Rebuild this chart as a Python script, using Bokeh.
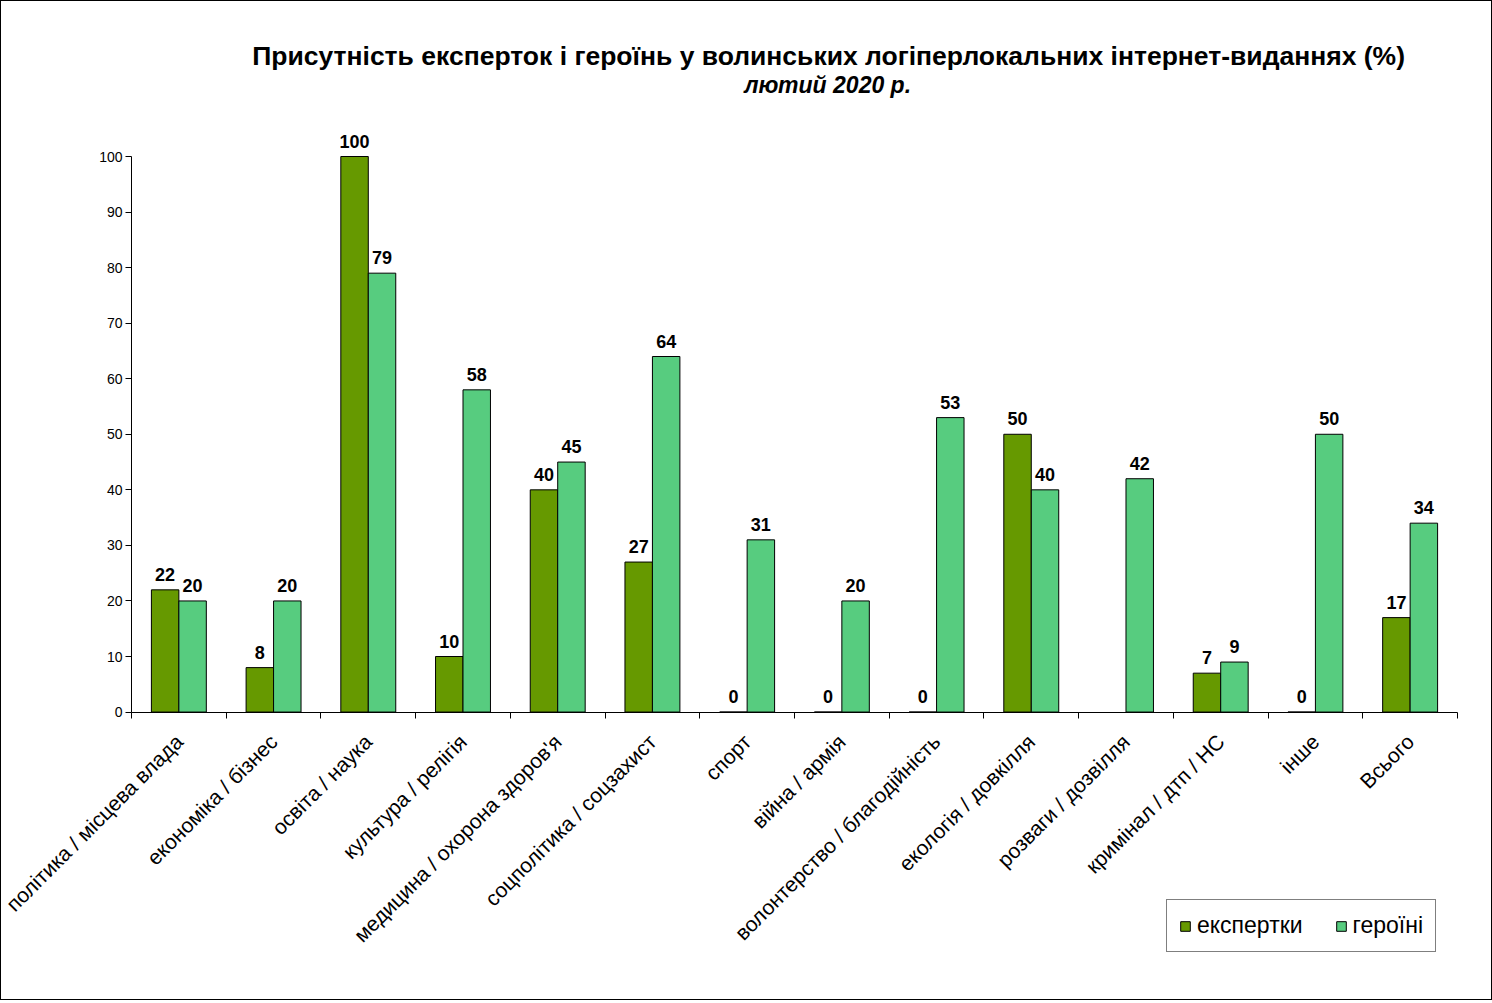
from math import pi, nan
from bokeh.plotting import figure
from bokeh.models import (ColumnDataSource, Range1d, FixedTicker, LabelSet, Label,
                          Legend, LegendItem)
from bokeh.core.properties import value
from bokeh.embed import file_html
from bokeh.resources import INLINE

categories = ["політика / місцева влада", "економіка / бізнес", "освіта / наука",
              "культура / релігія", "медицина / охорона здоров'я", "соцполітика / соцзахист",
              "спорт", "війна / армія", "волонтерство / благодійність", "екологія / довкілля",
              "розваги / дозвілля", "кримінал / дтп / НС", "інше", "Всього"]
experts = [22, 8, 100, 10, 40, 27, 0, 0, 0, 50, None, 7, 0, 17]
heroines = [20, 20, 79, 58, 45, 64, 31, 20, 53, 40, 42, 9, 50, 34]
y_ticks = list(range(0, 101, 10))

title_text = "Присутність експерток і героїнь у волинських логіперлокальних інтернет-виданнях (%)"
subtitle_text = "лютий 2020 р."

FONT = "Liberation Sans"
DARK = "#669900"
LIGHT = "#57CC7F"

n = len(categories)
centers = [i + 0.5 for i in range(n)]
off = 0.145
bw = 0.29

src_e = ColumnDataSource(dict(
    x=[c - off for c in centers],
    top=[nan if v is None else v for v in experts],
    label=["" if v is None else str(v) for v in experts],
    ly=[0 if v is None else v for v in experts],
))
src_h = ColumnDataSource(dict(
    x=[c + off for c in centers],
    top=heroines,
    label=[str(v) for v in heroines],
    ly=heroines,
))

p = figure(frame_width=1486, frame_height=940, output_backend="svg", toolbar_location=None,
           x_range=Range1d(-1.3515, 14.338), y_range=Range1d(-44.9, 124.3),
           min_border_left=2, min_border_right=2, min_border_top=20, min_border_bottom=38,
           styles={"border": "1px solid black"})
p.outline_line_color = None
p.xgrid.visible = False
p.ygrid.visible = False
p.background_fill_color = "white"
p.border_fill_color = "white"

r_e = p.vbar(x="x", top="top", width=bw, bottom=0, source=src_e,
             fill_color=DARK, line_color="black", line_width=1)
r_h = p.vbar(x="x", top="top", width=bw, bottom=0, source=src_h,
             fill_color=LIGHT, line_color="black", line_width=1)

for s in (src_e, src_h):
    p.add_layout(LabelSet(x="x", y="ly", text="label", source=s, y_offset=9,
                          text_align="center", text_baseline="bottom",
                          text_font=value(FONT), text_font_size=value("18px"),
                          text_font_style=value("bold"), text_color=value("black")))

# axes
xa = p.xaxis[0]
xa.fixed_location = 0
xa.bounds = (0, n)
xa.ticker = FixedTicker(ticks=centers, minor_ticks=list(range(n + 1)))
xa.major_label_overrides = {c: lab for c, lab in zip(centers, categories)}
xa.major_tick_line_color = None
xa.minor_tick_line_color = "black"
xa.minor_tick_out = 6
xa.minor_tick_in = 0
xa.major_label_orientation = pi / 4
xa.major_label_standoff = 20
xa.major_label_text_font = FONT
xa.major_label_text_font_size = "21px"
xa.major_label_text_color = "black"
xa.axis_line_color = "black"

ya = p.yaxis[0]
ya.fixed_location = 0
ya.ticker = FixedTicker(ticks=y_ticks, minor_ticks=[])
ya.bounds = (0, 100)
ya.major_tick_out = 6
ya.major_tick_in = 0
ya.major_tick_line_color = "black"
ya.minor_tick_line_color = None
ya.major_label_standoff = 3
ya.major_label_text_font = FONT
ya.major_label_text_font_size = "14px"
ya.major_label_text_color = "black"
ya.axis_line_color = "black"

# titles
p.add_layout(Label(x=7.36, y=118.1, text=title_text, text_align="center",
                   text_baseline="alphabetic", text_font=FONT, text_font_size="26.5px",
                   text_font_style="bold", text_color="black"))
p.add_layout(Label(x=7.35, y=112.8, text=subtitle_text, text_align="center",
                   text_baseline="alphabetic", text_font=FONT, text_font_size="23px",
                   text_font_style="bold italic", text_color="black"))

legend = Legend(items=[LegendItem(label="експертки", renderers=[r_e]),
                       LegendItem(label="героїні", renderers=[r_h])],
                location=(1163, 9), orientation="horizontal",
                label_text_font=FONT, label_text_font_size="23px", label_text_color="black",
                glyph_width=12, glyph_height=12, label_standoff=6, spacing=32,
                padding=12, margin=0, border_line_color="black", border_line_width=1,
                background_fill_color="white", background_fill_alpha=1)
p.add_layout(legend, "center")

open("out.html", "w").write(file_html(p, INLINE))
